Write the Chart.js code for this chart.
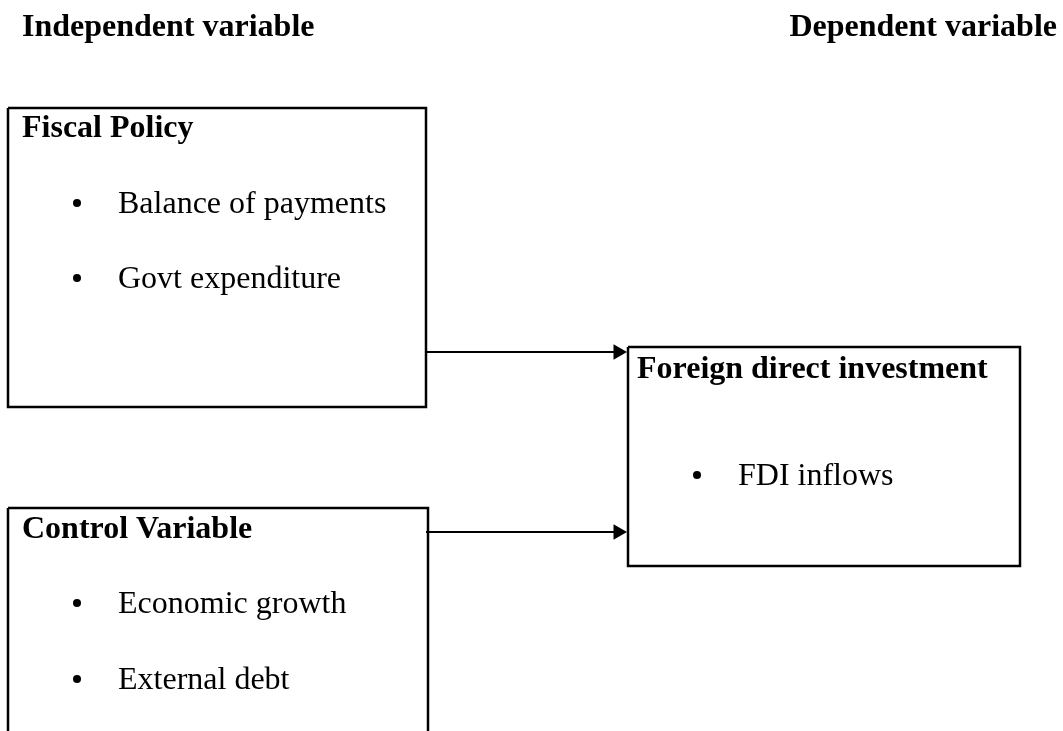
<!DOCTYPE html>
<html>
<head>
<meta charset="utf-8">
<script src="https://cdn.jsdelivr.net/npm/chart.js@4.4.1/dist/chart.umd.min.js"></script>
<style>
  body { margin: 0; background: #ffffff; overflow: hidden; }
  #div_grafico { width: 1063px; height: 731px; }
</style>
</head>
<body>
<div id="div_grafico"><canvas id="grafico" width="1063" height="731"></canvas></div>
<script>
// textos do diagrama
var cabecalhos = ["Independent variable", "Dependent variable"];
var titulos = ["Fiscal Policy", "Control Variable", "Foreign direct investment"];
var itens_fiscal = ["Balance of payments", "Govt expenditure"];
var itens_controle = ["Economic growth", "External debt"];
var itens_fdi = ["FDI inflows"];

// caixas: [esquerda, topo, direita, base] em unidades da escala (base > 731 = cortada)
var caixas = [[8, 108, 426, 407], [8, 508, 428, 760], [628, 347, 1020, 566]];
// setas: [x inicio, x fim, y]
var setas = [[426, 627, 352], [426, 627, 532]];

// posições dos textos (x, linha de base)
var pos_cabecalhos = [[22, 36, "left"], [1057, 36, "right"]];
var pos_titulos = [[22, 137], [22, 538], [637, 378]];
var pos_itens = [
  { x: 118, bx: 77, ys: [213, 288], itens: itens_fiscal },
  { x: 118, bx: 77, ys: [613, 689], itens: itens_controle },
  { x: 738, bx: 697, ys: [485], itens: itens_fdi }
];

var datasets = [];

// contornos das caixas
caixas.forEach(function (c) {
  datasets.push({
    type: "line",
    data: [{x: c[0], y: c[1]}, {x: c[2], y: c[1]}, {x: c[2], y: c[3]}, {x: c[0], y: c[3]}, {x: c[0], y: c[1]}],
    borderColor: "#000000",
    borderWidth: 2.5,
    pointRadius: 0,
    fill: false,
    tension: 0
  });
});

// setas (linha + ponta triangular)
setas.forEach(function (s) {
  datasets.push({
    type: "line",
    data: [{x: s[0], y: s[2]}, {x: s[1] - 12, y: s[2]}],
    borderColor: "#000000",
    borderWidth: 2,
    pointRadius: 0
  });
  datasets.push({
    type: "scatter",
    data: [{x: s[1] - 9, y: s[2]}],
    pointStyle: "triangle",
    rotation: 90,
    pointRadius: 9,
    backgroundColor: "#000000",
    borderColor: "#000000",
    borderWidth: 0
  });
});

// marcadores (bullets)
var bullets = [];
pos_itens.forEach(function (g) {
  g.ys.forEach(function (y) {
    bullets.push({x: g.bx, y: y - 10});
  });
});
datasets.push({
  type: "scatter",
  data: bullets,
  pointStyle: "circle",
  pointRadius: 4,
  backgroundColor: "#000000",
  borderWidth: 0
});

var textos_plugin = {
  id: "textos",
  afterDatasetsDraw: function (chart) {
    var ctx = chart.ctx;
    var sx = chart.scales.x, sy = chart.scales.y;
    ctx.save();
    ctx.fillStyle = "#000000";
    ctx.textBaseline = "alphabetic";

    ctx.font = "bold 32px 'Liberation Serif', 'Times New Roman', serif";
    cabecalhos.forEach(function (t, i) {
      ctx.textAlign = pos_cabecalhos[i][2];
      ctx.fillText(t, sx.getPixelForValue(pos_cabecalhos[i][0]), sy.getPixelForValue(pos_cabecalhos[i][1]));
    });
    ctx.textAlign = "left";
    titulos.forEach(function (t, i) {
      ctx.fillText(t, sx.getPixelForValue(pos_titulos[i][0]), sy.getPixelForValue(pos_titulos[i][1]));
    });

    ctx.font = "32px 'Liberation Serif', 'Times New Roman', serif";
    pos_itens.forEach(function (g) {
      g.itens.forEach(function (t, j) {
        ctx.fillText(t, sx.getPixelForValue(g.x), sy.getPixelForValue(g.ys[j]));
      });
    });
    ctx.restore();
  }
};

var grafico = new Chart(document.getElementById("grafico"), {
  type: "scatter",
  data: { datasets: datasets },
  plugins: [textos_plugin],
  options: {
    responsive: false,
    devicePixelRatio: 1,
    animation: false,
    layout: { padding: 0, autoPadding: false },
    plugins: {
      legend: { display: false },
      tooltip: { enabled: false }
    },
    scales: {
      x: { type: "linear", min: 0, max: 1063, display: false },
      y: { type: "linear", min: 0, max: 731, reverse: true, display: false }
    }
  }
});
</script>
</body>
</html>
